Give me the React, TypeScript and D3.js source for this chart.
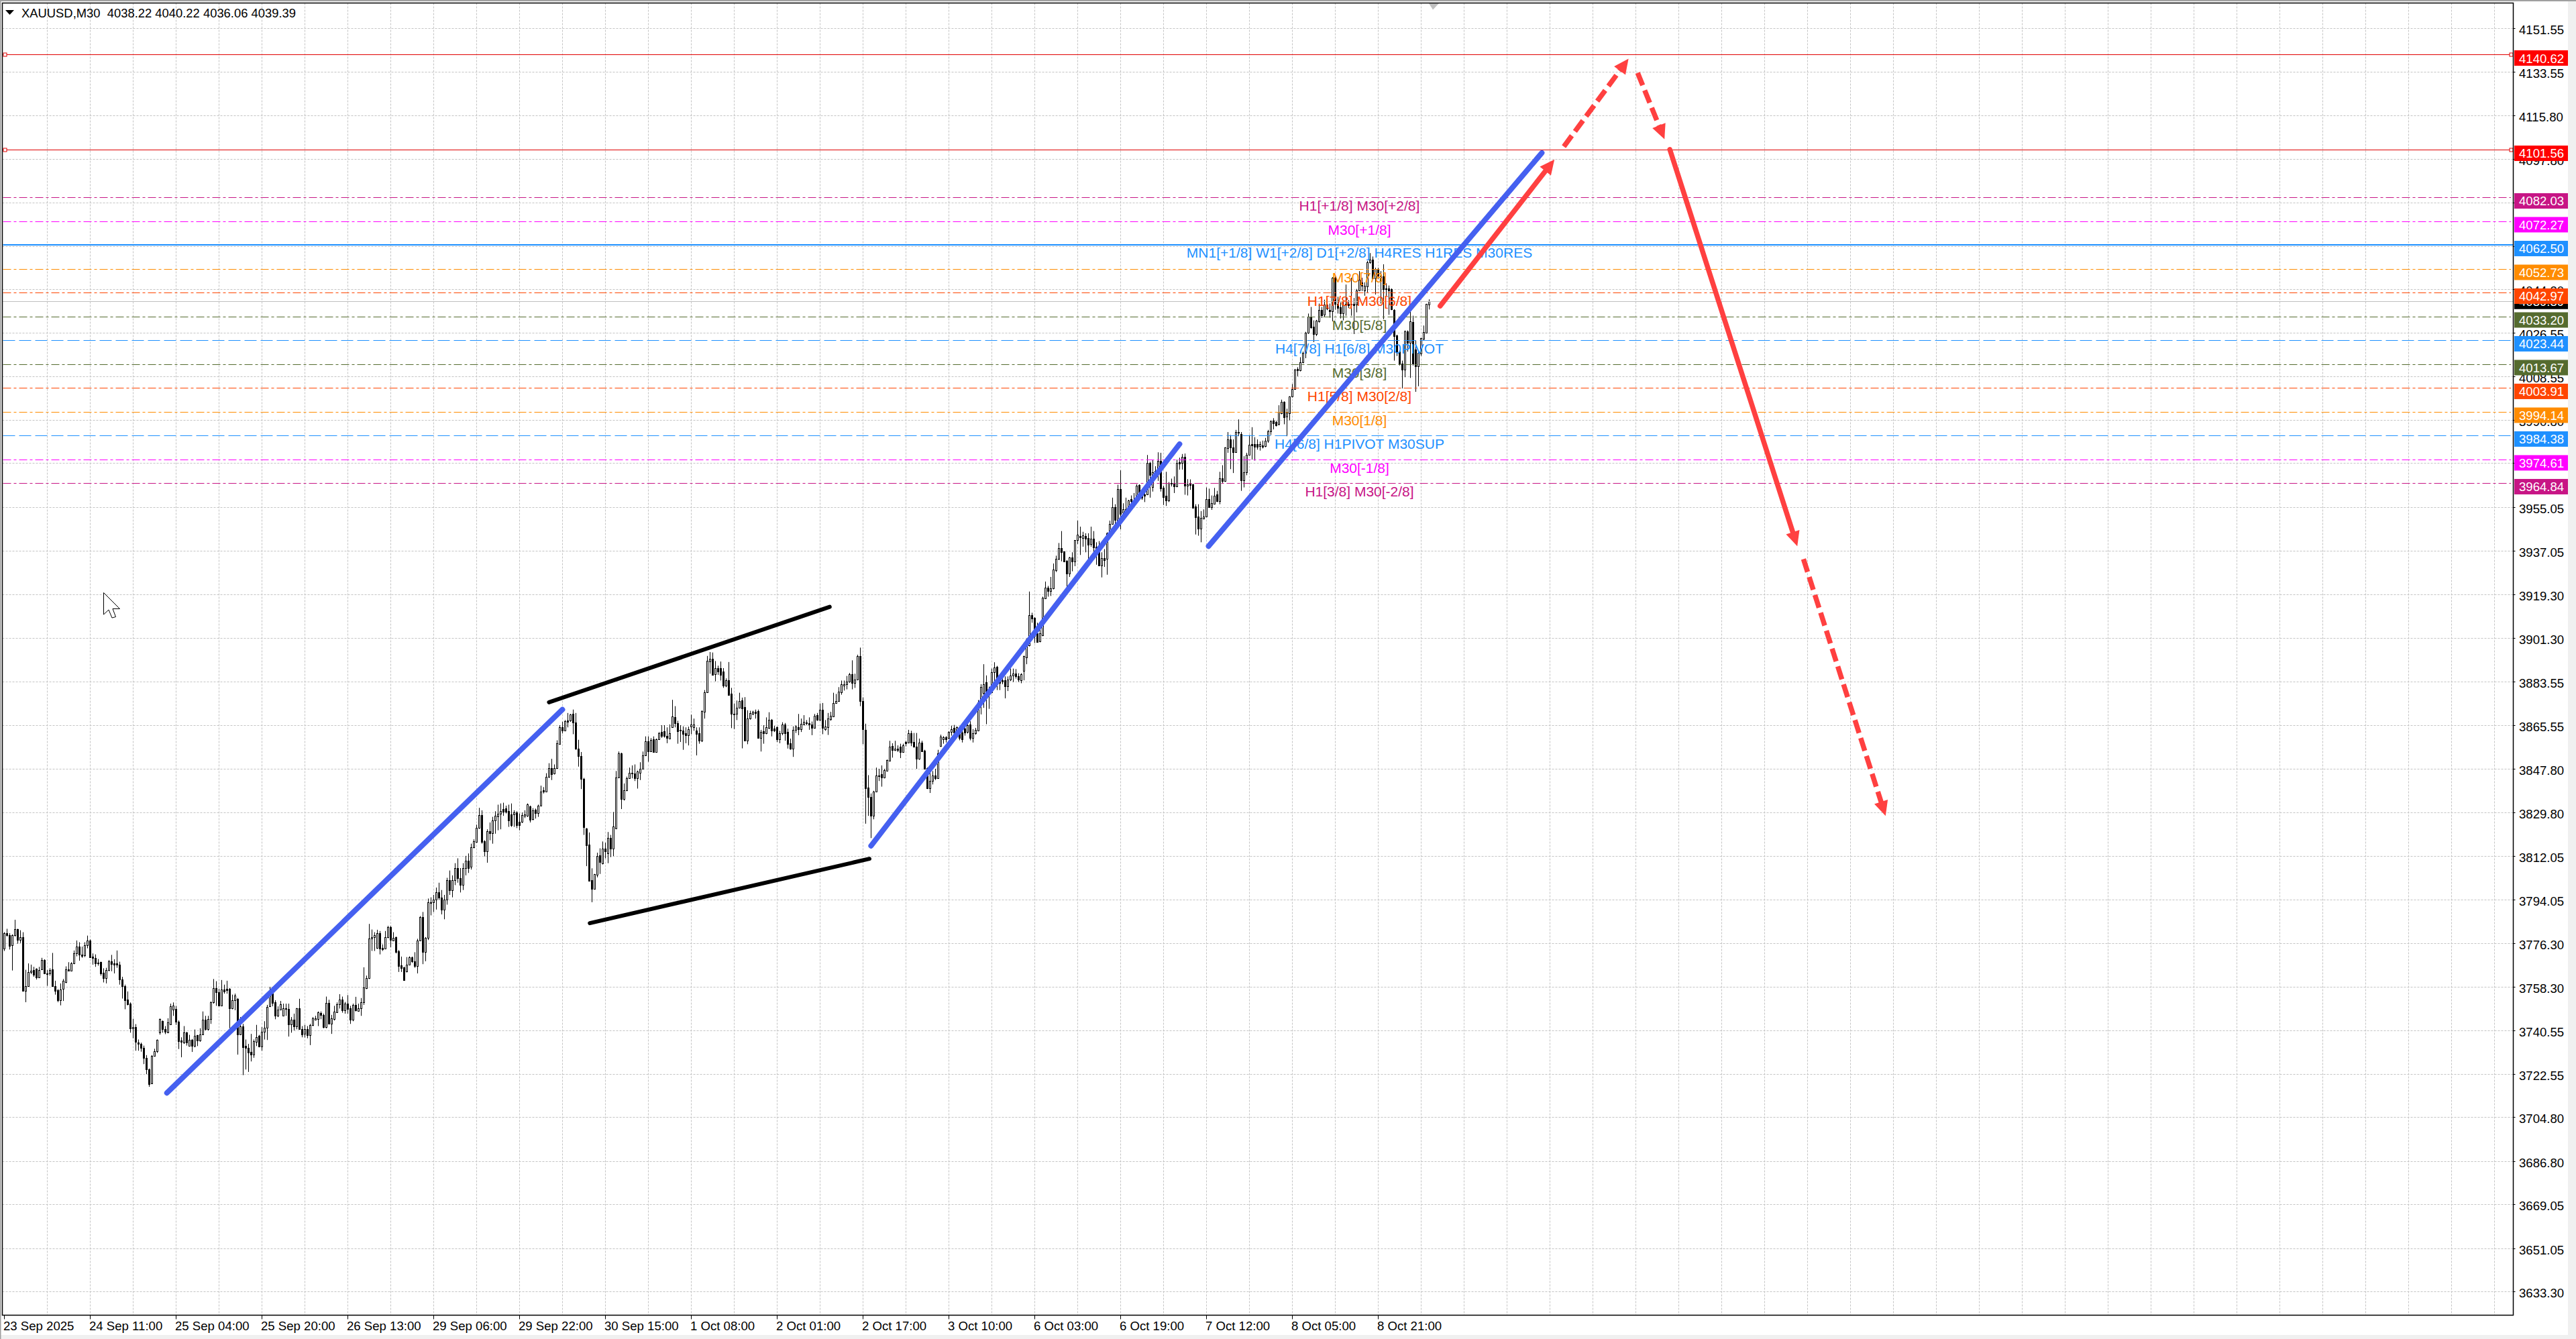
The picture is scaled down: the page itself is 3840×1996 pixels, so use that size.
import React, { useEffect, useRef } from 'react';
import * as d3 from 'd3';

const WIDTH = 3840;
const HEIGHT = 1996;

// OHLC, one value per M30 bar, ten to a row
const opens = [
  3773.9, 3780.3, 3779.6, 3775.4, 3779.4, 3781.9, 3777.5, 3778.7, 3756.7, 3758.5,
  3764.4, 3765.2, 3765.6, 3762.2, 3765.4, 3769.4, 3763.9, 3763.9, 3765.5, 3758.7,
  3756.9, 3752.8, 3757.4, 3760.3, 3765.4, 3765, 3767.9, 3772.1, 3774.9, 3771.6,
  3771.1, 3775.4, 3777.4, 3770.7, 3770.2, 3768.3, 3768.4, 3764.2, 3761.9, 3765.2,
  3768.8, 3768, 3767.9, 3767.4, 3761.3, 3758.6, 3753.2, 3751.4, 3741.3, 3741.8,
  3735.5, 3734.9, 3733.3, 3729.2, 3724.5, 3718.7, 3730, 3732, 3739.7, 3744.3,
  3741.1, 3739.5, 3743, 3748.9, 3749.1, 3744.1, 3736.2, 3735.6, 3739.5, 3734.2,
  3736.5, 3734.2, 3738.4, 3736.2, 3738.8, 3744.9, 3740.9, 3745, 3751.9, 3757.8,
  3756.2, 3750.7, 3757.1, 3757.4, 3757.4, 3749.6, 3752.8, 3753.4, 3738.7, 3742.2,
  3734, 3733.3, 3731.7, 3730.5, 3735.8, 3738.1, 3733.8, 3739.8, 3741.5, 3750.3,
  3755.5, 3751.9, 3746.4, 3748.9, 3746.6, 3749.2, 3749.1, 3742.9, 3744.9, 3742,
  3749.6, 3741, 3739, 3740.9, 3738.6, 3742.5, 3744.7, 3745, 3747.7, 3746.8,
  3741.8, 3751.8, 3743.1, 3745, 3747.9, 3751.2, 3753.2, 3748.8, 3751.4, 3749.6,
  3744.7, 3750.9, 3748.5, 3749.6, 3752.1, 3757.8, 3761.8, 3778, 3778.7, 3774.3,
  3780.3, 3774.3, 3774.1, 3778.7, 3782.9, 3777.4, 3778.7, 3773, 3767, 3766.4,
  3764.7, 3767.4, 3770.5, 3768.8, 3766.8, 3777.4, 3787, 3772.5, 3778.5, 3793.1,
  3793, 3794, 3797, 3795, 3790, 3794, 3802, 3798, 3802, 3807,
  3803, 3800, 3807, 3810, 3807.5, 3815.6, 3817.7, 3823.4, 3828.8, 3817.9,
  3814, 3822.2, 3821.3, 3826.4, 3828.3, 3829.4, 3831.2, 3831.4, 3830.3, 3828.9,
  3828.9, 3829.9, 3826.1, 3825.9, 3828.4, 3828.4, 3832.4, 3827.1, 3830.9, 3829.5,
  3832.7, 3838.8, 3838.5, 3844.3, 3847.9, 3845.7, 3848, 3858, 3864.9, 3863.5,
  3867.6, 3867.4, 3870.2, 3866.8, 3856.1, 3853, 3843.5, 3823.1, 3816.5, 3802,
  3798.6, 3804.3, 3812.1, 3809, 3814.9, 3813, 3819.5, 3815.1, 3823.2, 3844.2,
  3854.1, 3835.3, 3839, 3843.8, 3846.2, 3845.7, 3844, 3846.1, 3847.7, 3853.2,
  3859, 3855, 3859.8, 3854.6, 3859.8, 3862.8, 3863, 3861.3, 3860.1, 3864.7,
  3869, 3866.5, 3863.7, 3863.5, 3862.2, 3861.5, 3865, 3864.7, 3863.5, 3862.2,
  3859.2, 3871.1, 3879.2, 3891.7, 3892.9, 3886.4, 3889.1, 3889.1, 3887.5, 3881.8,
  3884.1, 3878.4, 3870.3, 3870.2, 3872.8, 3875.7, 3873.1, 3859.2, 3868.4, 3870.4,
  3871, 3871.4, 3860.5, 3863.1, 3862.4, 3864.4, 3867.9, 3864.2, 3864.7, 3859.8,
  3862.4, 3865.8, 3862.9, 3858.2, 3856, 3863.7, 3864.8, 3864, 3866, 3866.4,
  3866.5, 3866, 3864.4, 3869.7, 3867.7, 3872, 3863.9, 3864.7, 3868.2, 3869.3,
  3874.7, 3875.4, 3879, 3881.8, 3882.5, 3883.5, 3886.4, 3882.9, 3884.4, 3894,
  3875.6, 3863.7, 3839.9, 3836.2, 3828.4, 3838.3, 3844.8, 3845.4, 3844.2, 3847,
  3850.9, 3857.1, 3855.5, 3856.1, 3856.7, 3854.6, 3858.7, 3858.5, 3862.4, 3858.7,
  3856.9, 3851.8, 3858.5, 3855.2, 3847.9, 3839.7, 3842.7, 3845.1, 3843.8, 3857.1,
  3859.9, 3860.7, 3860.4, 3862.9, 3864.5, 3861.7, 3862.2, 3862.6, 3864.2, 3862.9,
  3865.8, 3860.4, 3862.2, 3863.3, 3874.1, 3878.7, 3883.1, 3879.1, 3879.1, 3887.4,
  3889.5, 3884.9, 3883.9, 3883.9, 3881.6, 3884.2, 3886, 3886.8, 3885.8, 3884,
  3887.9, 3893.4, 3898.4, 3910.6, 3909.6, 3903.4, 3900, 3902.5, 3917.7, 3922,
  3920.7, 3921.6, 3929.1, 3933.7, 3938.3, 3936.8, 3933, 3927.9, 3934.4, 3932.6,
  3941.4, 3943.3, 3942.4, 3943.3, 3942.3, 3939.9, 3942.2, 3938.7, 3938.3, 3931.1,
  3934, 3933.7, 3944.3, 3948.1, 3955, 3949.5, 3962.4, 3952.8, 3954.3, 3953,
  3958.3, 3957.7, 3957.4, 3964, 3959.8, 3960.3, 3960.3, 3973.1, 3963.2, 3969.3,
  3969.5, 3974.1, 3963.1, 3959.6, 3957.7, 3964.7, 3964.9, 3963.5, 3973.4, 3973.3,
  3975.6, 3963.7, 3964.6, 3964.3, 3955.3, 3951.1, 3946.1, 3950.4, 3951.1, 3958.2,
  3955, 3956.5, 3960.1, 3957.6, 3966.7, 3965.8, 3979.1, 3982.7, 3979.4, 3977.7,
  3985.8, 3984.9, 3966, 3969.3, 3976.6, 3981, 3981, 3980.8, 3980, 3980.3,
  3980, 3982.3, 3986.2, 3990.4, 3989.9, 3989, 3993.6, 3998.2, 3992.2, 3993.6,
  4000.3, 4003.4, 4011.7, 4011, 4014.4, 4018.3, 4026.6, 4033, 4028.9, 4026.1,
  4031.2, 4035.8, 4033.9, 4038.1, 4036, 4035.3, 4049.1, 4038.5, 4037, 4034.4,
  4037.9, 4038.5, 4038.5, 4038.5, 4038.1, 4043.8, 4047.2, 4044, 4045.4, 4055.3,
  4056.4, 4048.9, 4052.6, 4047.7, 4049.6, 4044.5, 4044.7, 4044.5, 4036, 4025.4,
  4018.8, 4013.8, 4011.5, 4027.1, 4022.5, 4031, 4019.7, 4012.8, 4017.9, 4024.1,
  4026.6, 4038.22,
];

const closes = [
  3780.3, 3779.6, 3775.2, 3779.4, 3781.9, 3777.5, 3778.7, 3756.6, 3758.5, 3764.4,
  3765, 3763.3, 3762.1, 3765.3, 3769.4, 3763.8, 3763.5, 3765.2, 3758.7, 3756.6,
  3752.8, 3757.3, 3760.8, 3765.4, 3765, 3767.9, 3772.1, 3774.9, 3771.6, 3770.9,
  3775.4, 3777.4, 3770.5, 3770.1, 3767.9, 3767.9, 3763.8, 3761.9, 3765.2, 3768.8,
  3767.6, 3767.5, 3767.5, 3761.3, 3758.6, 3752.8, 3751.1, 3741.3, 3741.9, 3735.8,
  3734.9, 3733.2, 3729.2, 3724.5, 3718.4, 3730, 3732, 3736.5, 3745, 3740.9,
  3739.8, 3743.6, 3750.4, 3750.5, 3744.1, 3736, 3735.8, 3739.5, 3735.4, 3736.7,
  3734.2, 3738.3, 3736.2, 3738.8, 3744.9, 3740.9, 3745, 3752.1, 3757.8, 3756,
  3750.5, 3757.3, 3756.5, 3756.9, 3749.6, 3752.8, 3754.6, 3738.7, 3742, 3733.5,
  3733.2, 3731.4, 3730.5, 3736.1, 3737.6, 3733.8, 3739.8, 3741.6, 3750.1, 3755.5,
  3751.6, 3746.4, 3748.9, 3751.2, 3749.4, 3749.4, 3742.9, 3744.9, 3742, 3749.4,
  3741, 3738.8, 3741, 3738.4, 3742.7, 3745.4, 3745.3, 3747.8, 3746.8, 3741.7,
  3751.8, 3743.3, 3745.3, 3748, 3751.2, 3753.2, 3748.8, 3751.4, 3749.2, 3744.7,
  3750.9, 3748.6, 3749.6, 3752.1, 3758.1, 3762, 3778, 3778.7, 3779.4, 3780.3,
  3774, 3773.8, 3778.7, 3782.9, 3777.5, 3778.4, 3772.7, 3766.8, 3766.1, 3761,
  3767.4, 3770.5, 3768.8, 3766.8, 3777.4, 3787, 3772.5, 3778.4, 3793.1, 3792.7,
  3794, 3797, 3795, 3790, 3794, 3802, 3798, 3802, 3807, 3803,
  3800, 3807, 3810, 3807, 3815.6, 3817.9, 3823.6, 3828.8, 3817.7, 3814,
  3822, 3821.3, 3826.6, 3828.4, 3829.4, 3830.5, 3830.1, 3830.1, 3826.4, 3824.5,
  3829.9, 3824.6, 3824.6, 3828.6, 3828.9, 3833, 3826.8, 3830.7, 3829.5, 3832.7,
  3838.5, 3838.3, 3844.5, 3848, 3845.4, 3848, 3858.2, 3864.9, 3863.5, 3867.3,
  3867.1, 3870, 3866.7, 3856, 3853, 3843.6, 3823.7, 3816.3, 3801.8, 3798.6,
  3804.4, 3811.9, 3809.4, 3815.1, 3813.8, 3819.5, 3814.9, 3824.1, 3844.2, 3854.1,
  3835.3, 3839, 3844, 3846.1, 3845.7, 3844, 3846.5, 3847.7, 3853.2, 3859,
  3855, 3859.6, 3854.6, 3859.8, 3862.2, 3861.3, 3861.2, 3860.5, 3862.4, 3869.2,
  3866.5, 3863.1, 3863.5, 3861.9, 3861.5, 3864, 3865.9, 3866, 3861.9, 3859.2,
  3871.3, 3879.2, 3891.9, 3892.9, 3886.2, 3889.1, 3887.5, 3886.2, 3881.8, 3884.1,
  3878, 3870.2, 3870, 3872.8, 3875.4, 3872.6, 3859.4, 3868.4, 3870.6, 3871,
  3870.6, 3860.5, 3862.9, 3862.4, 3864.7, 3867.9, 3863.3, 3863.3, 3859.9, 3862.4,
  3865.8, 3862.2, 3858, 3856, 3863.7, 3865.1, 3864, 3866.2, 3867.1, 3866.8,
  3865.9, 3864.4, 3869.5, 3867.7, 3872, 3864.4, 3865.1, 3868.3, 3869.5, 3874.7,
  3875.5, 3879.3, 3882.3, 3882.5, 3883.6, 3886.4, 3883, 3884.4, 3894, 3875.4,
  3863.9, 3839.7, 3836.2, 3828.4, 3838.5, 3845, 3845, 3844.2, 3847.2, 3851.2,
  3856.9, 3855.5, 3856, 3855.4, 3854.6, 3857.3, 3858.2, 3862.4, 3858.5, 3856.9,
  3851.8, 3858.5, 3855, 3847.7, 3839.7, 3842.8, 3845, 3843.8, 3854.1, 3860.8,
  3860.7, 3859.9, 3862.8, 3864, 3862.6, 3864.7, 3860.4, 3859.9, 3862.6, 3865.7,
  3860.4, 3862.2, 3863.6, 3875, 3881.2, 3882.5, 3879.1, 3878.7, 3887.4, 3889.2,
  3884.7, 3882.8, 3883.6, 3881.6, 3884.2, 3886, 3886.8, 3885.8, 3884.2, 3886.5,
  3894, 3900.7, 3910.6, 3909.4, 3902.1, 3899.8, 3903.2, 3917.9, 3922, 3920.7,
  3921.6, 3929.3, 3933.7, 3938.3, 3936.6, 3932.8, 3927.9, 3934.4, 3932.6, 3941.4,
  3943.8, 3942.6, 3943.5, 3942.2, 3939.7, 3942.2, 3938.6, 3938.3, 3931.1, 3934,
  3933.2, 3944.4, 3948, 3955, 3949.8, 3962.4, 3952.3, 3954.1, 3952.5, 3957.7,
  3957.6, 3957.4, 3963.8, 3959.4, 3958.9, 3959.8, 3973.1, 3968.1, 3969.3, 3969.8,
  3973.9, 3962.8, 3959.2, 3957.7, 3964.9, 3964.9, 3963.4, 3973.1, 3973, 3975.7,
  3963.7, 3964.4, 3964.2, 3954.8, 3950.9, 3946.1, 3950.5, 3951.1, 3958.2, 3955,
  3956.6, 3959.8, 3957.4, 3966.7, 3965.8, 3979.4, 3982.7, 3979.4, 3977.7, 3985.7,
  3985.5, 3966.1, 3969.2, 3976.6, 3980.5, 3980.4, 3979.8, 3979.8, 3980.8, 3979.8,
  3982.3, 3986, 3990.1, 3989.5, 3988.5, 3994, 3998.2, 3992, 3993.9, 4000.3,
  4003.4, 4011.5, 4011, 4014.4, 4018.3, 4026.6, 4033.2, 4028.7, 4026.1, 4031.5,
  4035.8, 4033.7, 4038.1, 4036.4, 4035.3, 4049.1, 4038.5, 4036.7, 4034.4, 4038.1,
  4038.3, 4037.9, 4038.3, 4037.9, 4044, 4048.2, 4045.9, 4045.9, 4055.3, 4056.4,
  4048.9, 4052.6, 4049.8, 4050, 4044.5, 4044.7, 4044, 4036.2, 4025.2, 4018.8,
  4013.8, 4011.5, 4027.1, 4022.5, 4031.2, 4013.8, 4012.8, 4018.3, 4024.3, 4026.9,
  4038.3, 4039.39,
];

const highs = [
  3780.7, 3782.1, 3780.3, 3779.8, 3785.8, 3782.1, 3781.5, 3780.7, 3765.3, 3767.9,
  3767.4, 3766.5, 3765.9, 3766.5, 3770.2, 3769.6, 3765.2, 3765.9, 3772.2, 3760.8,
  3757.4, 3759.7, 3761.5, 3766.7, 3768.4, 3768.4, 3773.2, 3777.3, 3776.6, 3774.8,
  3776.6, 3779.3, 3777.7, 3772, 3771.6, 3769.7, 3768.6, 3765.9, 3766.1, 3769.3,
  3771.4, 3769.6, 3773.2, 3768.6, 3762.4, 3759.2, 3756.4, 3751.9, 3745.2, 3743,
  3736.7, 3735.4, 3734.2, 3730.3, 3724.8, 3730.3, 3732.9, 3736.7, 3745.3, 3744.5,
  3742.2, 3745.4, 3751.4, 3751.9, 3750.5, 3744.5, 3737.6, 3742.2, 3739.8, 3738.6,
  3736.9, 3740.8, 3738.6, 3741.3, 3748.2, 3746.4, 3746.4, 3752.3, 3761.5, 3760.6,
  3757.5, 3761.1, 3759.2, 3760.8, 3757.8, 3755.1, 3755.5, 3753.7, 3745.9, 3743.1,
  3736.7, 3734.9, 3739, 3736.7, 3742.7, 3738.6, 3741.8, 3744.2, 3750.9, 3758.3,
  3757.8, 3752.8, 3750.3, 3752.5, 3751.4, 3751.4, 3751.4, 3745.9, 3747.3, 3749.6,
  3753.4, 3742.2, 3742.7, 3742.2, 3743.1, 3745.9, 3746.4, 3748.2, 3748.2, 3747.3,
  3754.3, 3753, 3746.8, 3750.5, 3751.9, 3755.3, 3754.3, 3752.1, 3754.9, 3750.5,
  3751.4, 3754.2, 3751.4, 3753.7, 3766.3, 3762.9, 3784.1, 3781.8, 3780.7, 3781.7,
  3781.2, 3775.7, 3781.2, 3783.3, 3783.3, 3780.7, 3778.9, 3773.4, 3770.7, 3766.5,
  3770.5, 3770.8, 3770.7, 3772.5, 3778, 3787.3, 3789, 3778.7, 3794.5, 3795,
  3796, 3799, 3801, 3798, 3796, 3803, 3806, 3804, 3809, 3811,
  3807, 3809, 3812, 3813, 3817, 3818.8, 3824.8, 3831.7, 3830.7, 3818.4,
  3822.9, 3825.7, 3828, 3830.3, 3833, 3833.5, 3833.8, 3832.6, 3833, 3833.5,
  3830.7, 3830.3, 3829.4, 3829.8, 3830.7, 3833.5, 3832.6, 3831.6, 3831.4, 3833,
  3840.8, 3840.2, 3845.9, 3850, 3851.8, 3849.5, 3859.4, 3865.6, 3867, 3867.7,
  3870.6, 3870.2, 3872, 3870.6, 3859.6, 3854.6, 3844, 3823.4, 3821.6, 3806.9,
  3804.6, 3813.3, 3815.1, 3817.9, 3817.4, 3821.8, 3820.6, 3830, 3846.8, 3854.8,
  3854.3, 3841.7, 3844.5, 3848.2, 3849.1, 3849.5, 3847, 3850.4, 3854.8, 3861,
  3861, 3860.3, 3861, 3860.1, 3862.8, 3865.6, 3865.6, 3864.7, 3865.9, 3876,
  3873.4, 3867.4, 3865.6, 3865.1, 3864.7, 3865, 3869.9, 3868.3, 3864.7, 3864.7,
  3871.7, 3880, 3894, 3895.6, 3895.4, 3891.9, 3890, 3891.7, 3889, 3884.8,
  3891.5, 3880.9, 3874.5, 3875.7, 3878.9, 3876.9, 3877.1, 3871.7, 3871.5, 3871.5,
  3872, 3872, 3863.7, 3865.6, 3868.8, 3870.9, 3868.1, 3865.3, 3865.1, 3863.3,
  3866.8, 3866.5, 3864.2, 3860.1, 3865.1, 3865.6, 3870.2, 3868.3, 3869.7, 3867.7,
  3868.8, 3867.1, 3870.2, 3870.6, 3874.5, 3874.7, 3867.7, 3870.6, 3871.1, 3878.9,
  3878.4, 3881.2, 3883.9, 3883.9, 3885.8, 3887, 3892.2, 3886.7, 3894.5, 3897.4,
  3877, 3866.2, 3845.1, 3837.6, 3838.7, 3848.2, 3847.7, 3849.1, 3847.7, 3851.5,
  3859.2, 3858.2, 3859.2, 3857.3, 3858, 3858, 3859.2, 3863.7, 3863.3, 3862.4,
  3862.4, 3860.1, 3859.2, 3855.5, 3848.2, 3846.8, 3846.8, 3847.7, 3855.5, 3861.7,
  3861.1, 3861.1, 3863.1, 3865.4, 3865.7, 3865.1, 3864, 3864, 3865.4, 3866,
  3867.2, 3864, 3864.5, 3875.9, 3882.4, 3890.6, 3886, 3881.4, 3888.8, 3891.4,
  3889.9, 3886, 3886, 3885.6, 3885.6, 3888.8, 3888.8, 3888.6, 3886.9, 3886.9,
  3894.1, 3901.2, 3920.4, 3911.7, 3909.9, 3907.6, 3908, 3918.3, 3924.5, 3922.7,
  3926.4, 3931.9, 3935.1, 3940.3, 3945.2, 3936.9, 3933.3, 3934.6, 3936.5, 3941.5,
  3949.5, 3947, 3944.9, 3944.3, 3944.3, 3947, 3945.2, 3940.6, 3941.1, 3936.5,
  3937.8, 3944.7, 3949.5, 3958.9, 3956.2, 3964.2, 3970.1, 3956.6, 3958.9, 3958,
  3959.8, 3960.8, 3964.4, 3964.4, 3961.7, 3961.7, 3976.4, 3973.6, 3974.5, 3971.8,
  3977.5, 3977.3, 3963.8, 3969.5, 3965.3, 3966.7, 3967.6, 3974.5, 3975.3, 3976.8,
  3977, 3966.5, 3966.4, 3964.6, 3956.2, 3956.2, 3953.4, 3954.1, 3963.1, 3962.6,
  3959.8, 3962.9, 3961.7, 3969.5, 3972.2, 3979.6, 3985.8, 3984.6, 3982.8, 3986.7,
  3991, 3985.8, 3975.9, 3977.3, 3984.6, 3987.8, 3983.7, 3982.8, 3981.9, 3982.3,
  3983.4, 3986.7, 3990.6, 3991.5, 3990.4, 3996.8, 3999.1, 3998.4, 3995.4, 4000.5,
  4005.5, 4011.7, 4012.4, 4016.5, 4018.8, 4026.9, 4034.4, 4037.1, 4031.6, 4031.8,
  4038.5, 4037.1, 4040.1, 4040.4, 4038.5, 4049.3, 4049.5, 4041.3, 4039, 4039.4,
  4046.3, 4039.9, 4049.1, 4040.8, 4044.5, 4051.8, 4049.1, 4047.2, 4056, 4059.2,
  4057.8, 4053.2, 4053.2, 4051.8, 4054.6, 4046.8, 4045.9, 4044.7, 4036.2, 4025.7,
  4019.3, 4015.1, 4027.5, 4027.5, 4035.3, 4033.5, 4023.4, 4018.8, 4024.5, 4029.5,
  4038.4, 4040.22,
];

const lows = [
  3773, 3778.9, 3773.6, 3765, 3778.9, 3776, 3776.3, 3756.4, 3752, 3758.5,
  3763.5, 3762.4, 3761.3, 3762.2, 3765.2, 3763.5, 3758.7, 3762.9, 3758.3, 3755.1,
  3752, 3750.7, 3752.5, 3759.8, 3764.7, 3764.7, 3767.6, 3770.8, 3769, 3770.2,
  3770.5, 3774.1, 3770.2, 3767.4, 3766.5, 3767, 3762.9, 3760.1, 3759.7, 3764.7,
  3764.7, 3763.8, 3766.1, 3759.2, 3753.5, 3749.1, 3750.7, 3739.5, 3737.2, 3732.1,
  3732.1, 3731.7, 3726.6, 3722.5, 3717.3, 3718.4, 3729.9, 3731.2, 3738.7, 3739.5,
  3738.9, 3739.3, 3742.7, 3746.4, 3742.7, 3732.8, 3729.4, 3734.9, 3734.2, 3734,
  3731.6, 3733.5, 3734, 3735.8, 3738.6, 3740.4, 3740.4, 3743.1, 3751.4, 3750.5,
  3750.3, 3750.5, 3755.5, 3755.5, 3741.3, 3749.1, 3748.7, 3730.5, 3738.6, 3722.1,
  3724.4, 3723.4, 3727.7, 3729.2, 3734, 3733.5, 3732.1, 3736.7, 3736.5, 3750,
  3750.3, 3745, 3745.9, 3748.7, 3746.4, 3746.4, 3737.9, 3739.5, 3740.4, 3740.9,
  3740.9, 3737.6, 3737.5, 3737.2, 3734.4, 3742.2, 3744.5, 3742.2, 3745, 3741.3,
  3741.3, 3743.1, 3739, 3744.5, 3747.7, 3749.4, 3747.7, 3747.3, 3747.3, 3743.1,
  3744.2, 3748.2, 3748.2, 3746.4, 3750.9, 3757.4, 3761.5, 3773, 3773, 3773.9,
  3771.6, 3773, 3773.9, 3778.2, 3774.5, 3777.1, 3772, 3764.4, 3764.4, 3760.9,
  3764.2, 3767.2, 3768.1, 3766.1, 3763.8, 3777.1, 3767.6, 3768.8, 3777.5, 3787.6,
  3789, 3790, 3794, 3788, 3786, 3792, 3796, 3795, 3800, 3801,
  3797, 3798, 3804, 3805, 3806.4, 3815.1, 3817.4, 3823.1, 3817, 3811.8,
  3809.2, 3818.4, 3817, 3821.1, 3822.5, 3822.9, 3828.4, 3829.4, 3823.9, 3823.9,
  3823.9, 3823.4, 3822.5, 3825.5, 3827.5, 3828, 3825.7, 3826.6, 3827.3, 3828,
  3832.3, 3837.6, 3838.1, 3844, 3843.1, 3845.4, 3847.7, 3857.8, 3862.2, 3863.3,
  3864.7, 3867, 3861.9, 3855.5, 3848.6, 3839.4, 3820.6, 3807.8, 3801.7, 3793,
  3798.2, 3803.2, 3804.6, 3808.5, 3811, 3809, 3811.5, 3811.9, 3823, 3844,
  3831.2, 3834.7, 3838.5, 3843.6, 3843.8, 3842.7, 3839.6, 3843.1, 3847.5, 3853.2,
  3850.6, 3854.6, 3854.4, 3854.4, 3859.6, 3860.4, 3860.5, 3858.2, 3859.8, 3864.7,
  3864.7, 3858, 3858.7, 3855.5, 3858.2, 3857.3, 3861.9, 3863.3, 3853.2, 3858,
  3858.7, 3868.3, 3878.9, 3886.7, 3886, 3883.6, 3886.2, 3883.9, 3880.9, 3881.2,
  3877.8, 3864.4, 3864, 3867.7, 3872.5, 3856.1, 3859.2, 3857.8, 3867.9, 3869.7,
  3868.3, 3860.4, 3854.8, 3858, 3861.9, 3864, 3861, 3862.8, 3858.7, 3858.2,
  3861.5, 3859.2, 3856, 3855.5, 3852.6, 3862.4, 3861.5, 3862.8, 3865.6, 3865.6,
  3863.7, 3861.5, 3864.2, 3867.4, 3867.4, 3861.9, 3863.3, 3861.6, 3867.4, 3869,
  3874.5, 3875.2, 3878.1, 3879.8, 3880.3, 3883, 3880.3, 3880.9, 3884.2, 3873.4,
  3857.8, 3825.2, 3828.4, 3819.3, 3827, 3838.1, 3842.7, 3840.4, 3843.8, 3846.8,
  3850.7, 3852.3, 3855, 3854.6, 3852.1, 3854.3, 3856.9, 3858.2, 3857, 3856.4,
  3847.7, 3851.4, 3854.6, 3847.5, 3839.4, 3837.8, 3841.3, 3843.1, 3843.6, 3856.7,
  3858, 3858.5, 3859.9, 3861.3, 3860.4, 3860.4, 3859.4, 3858.5, 3861.3, 3862.2,
  3859.4, 3858.5, 3861.7, 3863.1, 3870, 3872.7, 3866, 3872.3, 3878.7, 3883.3,
  3880, 3880, 3882.4, 3876.6, 3879.6, 3883.7, 3883.3, 3884.7, 3883.3, 3882.8,
  3884, 3890.6, 3897.9, 3907.6, 3899.3, 3899.6, 3899.6, 3902.1, 3917.4, 3918.3,
  3918.6, 3921.3, 3928.4, 3933.3, 3932.8, 3932.6, 3922.3, 3926.4, 3928.7, 3930.8,
  3939.9, 3935.4, 3938.8, 3936.5, 3933.3, 3938.8, 3934.2, 3931.4, 3931, 3926.2,
  3930.5, 3927.3, 3943.8, 3947.9, 3947, 3948.9, 3945.9, 3951.6, 3951.1, 3952.5,
  3956.2, 3957.1, 3957.1, 3958.6, 3958, 3957.1, 3960.1, 3958.9, 3961.4, 3968.6,
  3965.8, 3961.4, 3955.9, 3955.5, 3957.1, 3963.5, 3960.8, 3963.2, 3970.4, 3970.4,
  3960.1, 3959.8, 3962.1, 3954.6, 3943.8, 3943.3, 3940.6, 3950, 3950.9, 3954.8,
  3953.9, 3956.1, 3957.1, 3956.2, 3964.7, 3965.4, 3977.3, 3970.6, 3969, 3977.3,
  3984.1, 3961.7, 3963.1, 3968.1, 3976.4, 3974.5, 3974.1, 3978.6, 3978.2, 3979.1,
  3979.6, 3981.4, 3984.6, 3986.9, 3988.1, 3988.5, 3993.1, 3989, 3984.1, 3990.6,
  4000, 4003.2, 4008.7, 4010.7, 4014, 4016.1, 4026.1, 4028.2, 4022.7, 4025.2,
  4030.7, 4032.6, 4033, 4035.8, 4032.7, 4031.2, 4036, 4034.4, 4032.4, 4031.6,
  4033.5, 4036.7, 4033.5, 4026, 4034.9, 4043.6, 4043.6, 4041.7, 4043.1, 4054.8,
  4048.6, 4042.2, 4048.6, 4038.5, 4032.1, 4041.7, 4033.9, 4035.8, 4015.1, 4017,
  4013.1, 4003.7, 4008.3, 4018.8, 4008, 4013.1, 4002.3, 4004.6, 4017, 4023.4,
  4026.3, 4036.06,
];

const priceTicks = [
  '4151.55', '4133.55', '4115.80', '4097.80', '4079.80', '4062.05', '4044.30', '4026.55', '4008.55', '3990.80',
  '3973.05', '3955.05', '3937.05', '3919.30', '3901.30', '3883.55', '3865.55', '3847.80', '3829.80', '3812.05',
  '3794.05', '3776.30', '3758.30', '3740.55', '3722.55', '3704.80', '3686.80', '3669.05', '3651.05', '3633.30',
];

const timeLabels = [
  '23 Sep 2025', '24 Sep 11:00', '25 Sep 04:00', '25 Sep 20:00', '26 Sep 13:00', '29 Sep 06:00',
  '29 Sep 22:00', '30 Sep 15:00', '1 Oct 08:00', '2 Oct 01:00', '2 Oct 17:00', '3 Oct 10:00',
  '6 Oct 03:00', '6 Oct 19:00', '7 Oct 12:00', '8 Oct 05:00', '8 Oct 21:00',
];

// Murrey levels: price, caption, colour, line kind
const levelPrices = [4082.03, 4072.27, 4062.5, 4052.73, 4042.97, 4033.2, 4023.44, 4013.67, 4003.91, 3994.14, 3984.38, 3974.61, 3964.84];
const levelCaptions = [
  'H1[+1/8] M30[+2/8]', 'M30[+1/8]', 'MN1[+1/8] W1[+2/8] D1[+2/8] H4RES H1RES M30RES', 'M30[7/8]',
  'H1[7/8] M30[6/8]', 'M30[5/8]', 'H4[7/8] H1[6/8] M30PIVOT', 'M30[3/8]', 'H1[5/8] M30[2/8]', 'M30[1/8]',
  'H4[6/8] H1PIVOT M30SUP', 'M30[-1/8]', 'H1[3/8] M30[-2/8]',
];
const levelColors = [
  '#C71585', '#FF00FF', '#1E90FF', '#FF8C00', '#FF4500', '#556B2F', '#1E90FF', '#556B2F', '#FF4500', '#FF8C00',
  '#1E90FF', '#FF00FF', '#C71585',
];
const levelDashes = ['12 4 4 4', '12 4 4 4', '', '12 4 4 4', '12 4 4 4', '12 4 4 4', '18 6', '12 4 4 4', '12 4 4 4', '12 4 4 4', '18 6', '12 4 4 4', '12 4 4 4'];

const redLevels = [4140.62, 4101.56];
const lastPrice = 4039.39;

// hand-drawn objects: [bar, price, bar, price]
const blueTrends = [
  [60.8, 3714.8, 208.2, 3872.0],
  [323.2, 3816.1, 438.2, 3980.9],
  [449, 3939, 573.2, 4100.3],
];
const blackTrends = [
  [203.2, 3875, 307.8, 3914.1],
  [218.4, 3784.4, 322.6, 3810.8],
];
const redSolidArrows = [
  [535.3, 4037.5, 577.9, 4097.6],
  [620.9, 4101.7, 668.4, 3939],
];
const redDashedArrows = [
  [581.4, 4102.9, 605.5, 4138.9],
  [608.9, 4133.1, 618.9, 4105.9],
  [670.7, 3933.7, 701.3, 3828.4],
];

const App: React.FC = () => {
  const svgRef = useRef<SVGSVGElement | null>(null);

  useEffect(() => {
    if (!svgRef.current) return;
    const svg = d3.select(svgRef.current);
    svg.selectAll('*').remove();

    const left = 3.5;
    const top = 4.5;
    const right = 3746.5;
    const bottom = 1960.5;

    const x = d3.scaleLinear().domain([0, 531]).range([5.6, 2129.6]);
    const y = d3.scaleLinear().domain([4140.62, 3633.3]).range([81.3, 1925.4]);
    const font = '"Liberation Sans", Arial, sans-serif';

    // window chrome
    svg.append('rect').attr('width', WIDTH).attr('height', HEIGHT).attr('fill', '#f0f0f0');
    svg.append('rect').attr('x', 0).attr('y', 0).attr('width', 3828).attr('height', 1990).attr('fill', '#fff');
    svg.append('rect').attr('width', WIDTH).attr('height', 2).attr('fill', '#a0a0a0');
    svg.append('rect').attr('width', 1.5).attr('height', HEIGHT).attr('fill', '#a0a0a0');

    // grid
    const grid = svg.append('g').attr('stroke', '#c4c4c4').attr('stroke-width', 1).attr('stroke-dasharray', '3 2');
    d3.range(16, 940, 16)
      .filter((b) => x(b) < right)
      .forEach((b) => {
        const px = Math.round(x(b)) + 0.5;
        grid.append('line').attr('x1', px).attr('x2', px).attr('y1', top).attr('y2', bottom);
      });
    priceTicks.forEach((t) => {
      const py = Math.round(y(+t)) + 0.5;
      grid.append('line').attr('x1', left).attr('x2', right).attr('y1', py).attr('y2', py);
    });

    // candles
    const candles = svg.append('g');
    closes.forEach((c, i) => {
      const o = opens[i];
      const px = Math.round(x(i));
      candles
        .append('line')
        .attr('x1', px + 0.5)
        .attr('x2', px + 0.5)
        .attr('y1', y(highs[i]))
        .attr('y2', y(lows[i]))
        .attr('stroke', '#000')
        .attr('stroke-width', 1);
      const y0 = Math.round(y(Math.max(o, c)));
      const y1 = Math.round(y(Math.min(o, c)));
      const up = c >= o;
      candles
        .append('rect')
        .attr('x', px - 0.5)
        .attr('y', y0 + 0.5)
        .attr('width', 2)
        .attr('height', Math.max(y1 - y0, 1))
        .attr('fill', up ? '#fff' : '#000')
        .attr('stroke', '#000')
        .attr('stroke-width', 1)
        .attr('shape-rendering', 'crispEdges');
    });

    // level lines
    const levels = svg.append('g');
    redLevels.forEach((p) => {
      const py = Math.round(y(p)) + 0.5;
      levels.append('line').attr('x1', left).attr('x2', right).attr('y1', py).attr('y2', py).attr('stroke', '#E00000').attr('stroke-width', 1);
      [7.5, 3743.5].forEach((ax) => {
        levels
          .append('rect')
          .attr('x', ax - 2.5)
          .attr('y', py - 2.5)
          .attr('width', 5)
          .attr('height', 5)
          .attr('fill', '#fff')
          .attr('stroke', '#E00000')
          .attr('stroke-width', 1);
      });
    });
    const lastY = Math.round(y(lastPrice)) + 0.5;
    levels.append('line').attr('x1', left).attr('x2', right).attr('y1', lastY).attr('y2', lastY).attr('stroke', '#c0c0c0').attr('stroke-width', 1);
    levelPrices.forEach((p, i) => {
      const py = Math.round(y(p)) + (levelDashes[i] ? 0.5 : 0);
      levels
        .append('line')
        .attr('x1', left + 1)
        .attr('x2', levelDashes[i] ? 3743 : right)
        .attr('y1', py)
        .attr('y2', py)
        .attr('stroke', levelColors[i])
        .attr('stroke-width', levelDashes[i] ? 1 : 2)
        .attr('stroke-dasharray', levelDashes[i] || null);
      levels
        .append('text')
        .attr('x', 2026.5)
        .attr('y', py + 19)
        .attr('text-anchor', 'middle')
        .attr('font-family', font)
        .attr('font-size', 21)
        .attr('fill', levelColors[i])
        .text(levelCaptions[i]);
    });

    // hand-drawn objects
    const drawn = svg.append('g').attr('fill', 'none').attr('stroke-linecap', 'round');
    const trend = d3.line<number[]>().x((d) => x(d[0])).y((d) => y(d[1]));
    blueTrends.forEach((s) => {
      drawn.append('path').attr('d', trend([[s[0], s[1]], [s[2], s[3]]])).attr('stroke', '#4560F0').attr('stroke-width', 8);
    });
    blackTrends.forEach((s) => {
      drawn.append('path').attr('d', trend([[s[0], s[1]], [s[2], s[3]]])).attr('stroke', '#000').attr('stroke-width', 6);
    });
    const arrow = (s: number[], dashed: boolean) => {
      const x0 = x(s[0]);
      const y0 = y(s[1]);
      const x1 = x(s[2]);
      const y1 = y(s[3]);
      const len = Math.hypot(x1 - x0, y1 - y0);
      const ux = (x1 - x0) / len;
      const uy = (y1 - y0) / len;
      const bx = x1 - ux * 22;
      const by = y1 - uy * 22;
      drawn
        .append('line')
        .attr('x1', x0)
        .attr('y1', y0)
        .attr('x2', bx + ux * 2)
        .attr('y2', by + uy * 2)
        .attr('stroke', '#FF4040')
        .attr('stroke-width', 7.5)
        .attr('stroke-linecap', dashed ? 'butt' : 'round')
        .attr('stroke-dasharray', dashed ? '20 8' : null);
      drawn
        .append('polygon')
        .attr('points', [[x1, y1], [bx - uy * 10.5, by + ux * 10.5], [bx + uy * 10.5, by - ux * 10.5]].map((d) => d.join(',')).join(' '))
        .attr('fill', '#FF4040');
    };
    redSolidArrows.forEach((s) => arrow(s, false));
    redDashedArrows.forEach((s) => arrow(s, true));

    // chart shift marker and mouse cursor
    svg.append('polygon').attr('points', '2130,5 2145,5 2136,14.5').attr('fill', '#c0c0c0');
    svg
      .append('path')
      .attr('d', 'M0,0 L24,24 L13.5,24 L18,36 L12.5,37.5 L7.5,25.5 L0,32.5 Z')
      .attr('transform', 'translate(154.5,883.5)')
      .attr('fill', '#fff')
      .attr('stroke', '#000')
      .attr('stroke-width', 1);

    // frame
    svg
      .append('rect')
      .attr('x', left)
      .attr('y', top)
      .attr('width', right - left)
      .attr('height', bottom - top)
      .attr('fill', 'none')
      .attr('stroke', '#000')
      .attr('stroke-width', 1.5);

    // title
    svg.append('polygon').attr('points', '8,15 21,15 14.5,22').attr('fill', '#000');
    svg
      .append('text')
      .attr('x', 32)
      .attr('y', 26)
      .attr('font-family', font)
      .attr('font-size', 18.4)
      .attr('fill', '#000')
      .attr('xml:space', 'preserve')
      .text('XAUUSD,M30  4038.22 4040.22 4036.06 4039.39');

    // price axis
    const axis = svg.append('g').attr('font-family', font).attr('font-size', 18.6);
    priceTicks.forEach((t) => {
      const py = Math.round(y(+t)) + 0.5;
      axis.append('line').attr('x1', right).attr('x2', right + 3).attr('y1', py).attr('y2', py).attr('stroke', '#000');
      axis.append('text').attr('x', 3755).attr('y', py + 8).attr('fill', '#000').text(t);
    });
    const tag = (p: number, color: string, dy: number, baseline: number) => {
      const py = y(p);
      axis.append('rect').attr('x', 3748).attr('y', py + dy).attr('width', 80).attr('height', 23).attr('fill', color);
      axis.append('text').attr('x', 3755).attr('y', py + baseline).attr('fill', '#fff').text(p.toFixed(2));
    };
    tag(lastPrice, '#000', -11.5, 6.5);
    redLevels.forEach((p) => tag(p, '#FF0000', -6.3, 12.2));
    levelPrices.forEach((p, i) => tag(p, levelColors[i], -6.3, 12.2));

    // time axis
    timeLabels.forEach((t, i) => {
      const px = Math.round(x(i * 32)) + 0.5;
      axis.append('line').attr('x1', px).attr('x2', px).attr('y1', bottom).attr('y2', bottom + 6).attr('stroke', '#000');
      axis.append('text').attr('x', px - 1.5).attr('y', 1983).attr('fill', '#000').text(t);
    });
  }, []);

  return <svg ref={svgRef} width={WIDTH} height={HEIGHT} style={{ position: 'absolute', left: 0, top: 0, display: 'block' }}></svg>;
};

export default App;
